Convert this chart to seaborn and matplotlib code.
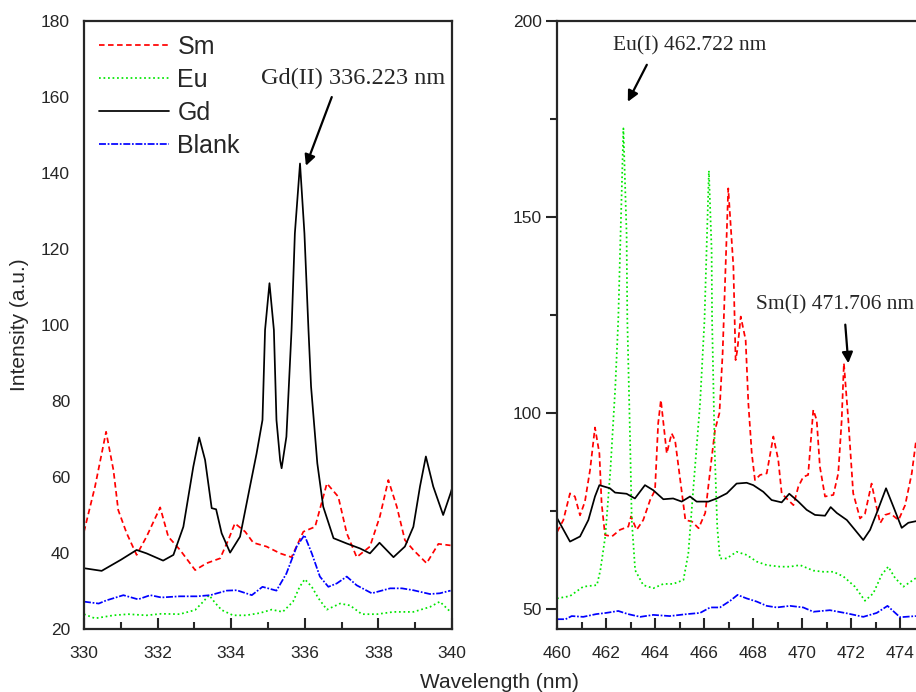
import numpy as np
import pandas as pd
import matplotlib
matplotlib.use("Agg")
import matplotlib.pyplot as plt
import seaborn as sns
from matplotlib.ticker import MultipleLocator

# ---------------- data: left panel (330-340 nm) ----------------
gd_l_x = [330.0, 330.48, 331.0, 331.43, 331.7, 332.15, 332.43, 332.7, 332.97, 333.13, 333.29, 333.47,
          333.59, 333.74, 333.97, 334.24, 334.51, 334.69, 334.85, 334.92, 335.04, 335.16, 335.23, 335.33,
          335.37, 335.5, 335.64, 335.73, 335.87, 335.99, 336.1, 336.17, 336.34, 336.5, 336.78, 337.14,
          337.5, 337.77, 338.03, 338.41, 338.72, 338.95, 339.13, 339.29, 339.49, 339.76, 339.96, 340.0]
gd_l_y = [36, 35.3, 38.2, 40.8, 39.9, 38, 39.5, 46.9, 62.7, 70.4, 64.5, 51.8,
          51.5, 45.2, 40.1, 44.3, 57.5, 66.2, 75, 98.7, 111, 98.7, 75, 64.4,
          62.3, 70.6, 98.7, 124.1, 142.5, 124.1, 98.7, 83.8, 63.6, 52.2, 43.9, 42.5,
          41.2, 39.9, 42.7, 38.9, 41.7, 46.9, 57.5, 65.4, 57.5, 50, 55.7, 57]

sm_l_x = [330.0, 330.3, 330.6, 330.8, 330.93, 331.16, 331.43, 331.7, 332.07, 332.29, 332.61, 333.02,
          333.33, 333.7, 333.92, 334.1, 334.38, 334.6, 334.96, 335.33, 335.64, 335.96, 336.28, 336.6,
          336.91, 337.14, 337.41, 337.77, 338.04, 338.27, 338.5, 338.72, 338.95, 339.31, 339.63, 339.96]
sm_l_y = [45.6, 57.5, 71.9, 61.8, 51.3, 45.2, 39.5, 44.3, 52, 44.3, 40.8, 35.5,
          37.3, 38.6, 43.4, 47.8, 45.6, 42.7, 41.7, 39.9, 38.9, 45.6, 46.9, 58.3,
          54.8, 45.2, 38.9, 41.7, 49.6, 59.2, 52.2, 43.4, 40.8, 37.3, 42.4, 42]

eu_l_x = [330.0, 330.3, 330.8, 331.2, 331.7, 332.1, 332.6, 333.02, 333.24, 333.4, 333.57, 333.74,
          334.05, 334.4, 334.78, 335.1, 335.4, 335.68, 335.86, 336.0, 336.19, 336.37, 336.6, 336.96,
          337.23, 337.55, 337.96, 338.41, 338.95, 339.4, 339.67, 339.96]
eu_l_y = [23.9, 22.8, 23.6, 23.9, 23.6, 24.0, 23.9, 25, 27.2, 28.9, 26.8, 25,
          23.6, 23.6, 24.2, 25.1, 24.5, 27.2, 31.1, 33.1, 31.1, 28.1, 25.1, 26.7,
          26.2, 23.9, 23.9, 24.5, 24.5, 25.8, 27.2, 24.5]

bl_l_x = [330.0, 330.4, 330.6, 331.07, 331.47, 331.8, 332.1, 332.6, 333.07, 333.43, 333.88, 334.15,
          334.56, 334.85, 335.23, 335.5, 335.78, 335.99, 336.19, 336.41, 336.64, 336.87, 337.14, 337.41,
          337.82, 338.32, 338.64, 338.95, 339.4, 339.67, 339.96]
bl_l_y = [27.2, 26.7, 27.5, 28.9, 27.8, 28.9, 28.3, 28.6, 28.6, 28.9, 30.1, 30.2,
          28.9, 31.1, 30.1, 34.6, 41.7, 44.7, 39.9, 33.8, 31.1, 32, 33.8, 31.5,
          29.4, 30.7, 30.7, 30.2, 29.2, 29.4, 30.1]

# ---------------- data: right panel (460-475 nm) ----------------
gd_r_x = [460.01, 460.53, 460.94, 461.28, 461.55, 461.73, 462.16, 462.37, 462.84, 463.18, 463.59, 463.93,
          464.34, 464.74, 465.09, 465.43, 465.7, 466.18, 466.52, 466.93, 467.33, 467.74, 468.01, 468.42,
          468.76, 469.17, 469.48, 469.85, 470.19, 470.53, 470.94, 471.17, 471.42, 471.83, 472.16, 472.5,
          472.78, 473.05, 473.43, 473.73, 474.07, 474.34, 474.65]
gd_r_y = [73.1, 67.2, 68.5, 72.7, 78.7, 81.6, 80.8, 79.7, 79.4, 78.2, 81.6, 80.3,
          78, 78.2, 77.4, 78.7, 77.4, 77.4, 78.2, 79.5, 82, 82.2, 81.6, 79.9,
          77.8, 77.2, 79.4, 77.4, 75.3, 74.0, 73.8, 76, 74.5, 72.7, 70.2, 67.6,
          70.2, 74.5, 80.8, 76.1, 70.7, 72, 72.4]

sm_r_x = [460.01, 460.26, 460.53, 460.73, 460.94, 461.14, 461.35, 461.55, 461.73, 461.82, 461.96, 462.24,
          462.57, 462.91, 463.02, 463.25, 463.52, 463.8, 464.0, 464.13, 464.24, 464.48, 464.68, 464.82,
          465.03, 465.24, 465.51, 465.78, 466.05, 466.27, 466.45, 466.63, 466.76, 466.99, 467.2, 467.29,
          467.36, 467.5, 467.7, 467.81, 467.95, 468.08, 468.29, 468.56, 468.83, 469.03, 469.17, 469.37,
          469.65, 469.85, 470.05, 470.25, 470.46, 470.6, 470.73, 470.94, 471.28, 471.48, 471.62, 471.71,
          471.89, 472.09, 472.37, 472.57, 472.84, 472.98, 473.19, 473.39, 473.6, 473.94, 474.21, 474.48,
          474.65]
sm_r_y = [69.7, 72.7, 79.5, 78.7, 73.9, 77.4, 85.5, 96.3, 89.7, 77, 68.9, 68.5,
          70.2, 71, 73.6, 70.2, 72.7, 77.8, 80.3, 97.4, 103.3, 89.7, 94.8, 93,
          82.9, 72.7, 72.3, 70.6, 74.5, 86.3, 95.7, 100, 115.2, 157.3, 137.3, 113.5,
          116, 124.6, 118.6, 102.5, 89.7, 82.9, 84.2, 84.6, 94, 88.1, 79.5, 78.2,
          76.5, 81.2, 83.7, 84.2, 100.8, 98.2, 86.3, 78.7, 79.1, 84.6, 98.2, 112.7,
          98.2, 79.5, 73.1, 74.3, 82, 77.8, 71.9, 74, 74.4, 72.7, 76.5, 84.6,
          92.7]

eu_r_x = [460.0, 460.53, 461.07, 461.63, 461.77, 461.97, 462.18, 462.38, 462.5, 462.71, 462.84, 462.87,
          462.98, 463.05, 463.19, 463.52, 463.93, 464.34, 464.74, 465.16, 465.36, 465.57, 465.84, 466.02,
          466.2, 466.31, 466.33, 466.44, 466.54, 466.65, 466.93, 467.33, 467.74, 468.15, 468.56, 469.1,
          469.51, 469.92, 470.46, 470.87, 471.28, 471.69, 472.16, 472.57, 472.91, 473.25, 473.52, 473.8,
          474.14, 474.65]
eu_r_y = [52.7, 53.3, 55.7, 56.1, 59.9, 68.5, 85.5, 106.7, 123.7, 172.6, 145.8, 123.7,
          94, 72.7, 59.9, 56.1, 55.3, 56.4, 56.4, 57.4, 64.2, 81.2, 102.5, 123.7,
          161.8, 141.6, 123.7, 89.7, 71, 62.9, 62.9, 64.6, 63.8, 62.1, 61.2, 60.8,
          60.8, 61.2, 59.8, 59.5, 59.5, 58.3, 55.7, 52.1, 54, 58.7, 60.8, 57.9,
          55.7, 57.9]

bl_r_x = [460.0, 460.35, 460.6, 461.07, 461.6, 462.0, 462.5, 462.9, 463.4, 463.93, 464.6, 465.3,
          465.84, 466.25, 466.65, 467.07, 467.37, 467.74, 468.15, 468.56, 468.97, 469.51, 470.05, 470.46,
          471.14, 471.83, 472.5, 473.05, 473.49, 474.0, 474.65]
bl_r_y = [47.4, 47.4, 48.2, 48, 48.7, 49, 49.5, 48.7, 48, 48.5, 48.2, 48.7,
          49, 50.4, 50.4, 52.1, 53.6, 52.7, 51.9, 50.8, 50.4, 50.8, 50.4, 49.3,
          49.7, 48.9, 48, 49, 50.8, 47.9, 48.2]

series_names = ["Sm", "Eu", "Gd", "Blank"]
series_colors = {"Sm": "#ff0000", "Eu": "#00e600", "Gd": "#000000", "Blank": "#0000ff"}
series_styles = {"Sm": (0, (3.2, 2.0)), "Eu": (0, (1.0, 1.6)), "Gd": "-", "Blank": (0, (4, 1, 1, 1))}

left_tick_labels = ["330", "332", "334", "336", "338", "340"]
right_tick_labels = ["460", "462", "464", "466", "468", "470", "472", "474"]

# ---------------- styling ----------------
sns.set_style("ticks")
plt.rcParams["font.family"] = ["Liberation Sans", "DejaVu Sans"]
plt.rcParams["axes.linewidth"] = 1.6

W, H = 916, 692
fig = plt.figure(figsize=(W / 100, H / 100), dpi=100)

def px_axes(x0, y_top, w, h):
    return fig.add_axes([x0 / W, (H - y_top - h) / H, w / W, h / H])

ax1 = px_axes(84, 21, 368, 608)
ax2 = px_axes(557, 21, 392, 608)

left_data = {"Sm": (sm_l_x, sm_l_y), "Eu": (eu_l_x, eu_l_y), "Gd": (gd_l_x, gd_l_y), "Blank": (bl_l_x, bl_l_y)}
right_data = {"Sm": (sm_r_x, sm_r_y), "Eu": (eu_r_x, eu_r_y), "Gd": (gd_r_x, gd_r_y), "Blank": (bl_r_x, bl_r_y)}

for ax, data in ((ax1, left_data), (ax2, right_data)):
    for name in series_names:
        xs, ys = data[name]
        df = pd.DataFrame({"x": xs, "y": ys})
        sns.lineplot(data=df, x="x", y="y", ax=ax, color=series_colors[name],
                     linestyle=series_styles[name], linewidth=1.25, estimator=None,
                     sort=False, label=name if ax is ax1 else None)

serif = ["Liberation Serif", "DejaVu Serif"]
arrow_kw = dict(arrowstyle="-|>", color="black", lw=1.6, mutation_scale=16)

# left axes
ax1.set_xlim(330, 340)
ax1.set_ylim(20, 180)
ax1.set_xticks([int(t) for t in left_tick_labels])
ax1.set_xticklabels(left_tick_labels)
ax1.xaxis.set_minor_locator(MultipleLocator(1))
ax1.yaxis.set_major_locator(MultipleLocator(20))
ax1.tick_params(axis="x", which="major", direction="in", length=8, width=1.5, labelsize=12.5, pad=12)
ax1.tick_params(axis="x", which="minor", direction="in", length=5, width=1.5)
ax1.tick_params(axis="y", which="major", length=0, labelsize=12.5, pad=10)
ax1.set_xlabel("")
ax1.set_ylabel("")
for s in ax1.spines.values():
    s.set_visible(True)

leg = ax1.legend(loc="upper left", bbox_to_anchor=(0.04, 0.977), frameon=False, fontsize=18,
                 handlelength=2.8, handletextpad=0.35, labelspacing=0.36, borderpad=0, borderaxespad=0)

ax1.annotate("Gd(II) 336.223 nm", xy=(336.03, 141.9), xytext=(337.32, 165),
             ha="center", va="center", fontsize=17.5, family=serif,
             arrowprops=dict(**arrow_kw, shrinkA=4, shrinkB=0, relpos=(0.4, 0.0)))

# right axes
ax2.set_xlim(460, 476)
ax2.set_ylim(44.9, 200)
ax2.set_xticks([int(t) for t in right_tick_labels])
ax2.set_xticklabels(right_tick_labels)
ax2.xaxis.set_minor_locator(MultipleLocator(1))
ax2.yaxis.set_major_locator(MultipleLocator(50))
ax2.yaxis.set_minor_locator(MultipleLocator(25))
ax2.tick_params(axis="x", which="major", direction="in", length=8, width=1.5, labelsize=12.5, pad=12)
ax2.tick_params(axis="x", which="minor", direction="in", length=5, width=1.5)
ax2.tick_params(axis="y", which="major", direction="out", length=8, width=1.5, labelsize=12.5, pad=3)
ax2.tick_params(axis="y", which="minor", direction="out", length=5, width=1.5)
ax2.set_xlabel("")
ax2.set_ylabel("")
for s in ax2.spines.values():
    s.set_visible(True)

ax2.annotate("Eu(I) 462.722 nm", xy=(462.89, 179.4), xytext=(465.43, 193.7),
             ha="center", va="center", fontsize=15.5, family=serif,
             arrowprops=dict(**arrow_kw, shrinkA=5, shrinkB=0, relpos=(0.25, 0.0)))
ax2.annotate("Sm(I) 471.706 nm", xy=(471.89, 112.7), xytext=(468.12, 127.6),
             ha="left", va="center", fontsize=15.5, family=serif,
             arrowprops=dict(**arrow_kw, shrinkA=5, shrinkB=0, relpos=(0.56, 0.0)))

fig.text(499 / W, 1 - 683 / H, "Wavelength (nm)", ha="center", va="center", fontsize=15)
fig.text(20 / W, 1 - 325 / H, "Intensity (a.u.)", ha="center", va="center", fontsize=15, rotation=90)

fig.savefig("out.png", dpi=100)
